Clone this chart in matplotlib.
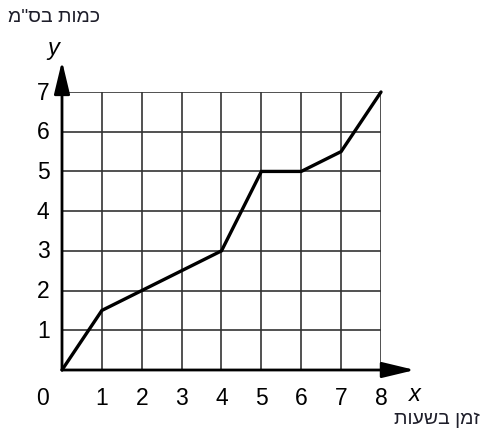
import matplotlib
matplotlib.use('Agg')
import matplotlib.pyplot as plt

# data
hours = [0, 1, 2, 3, 4, 5, 6, 7, 8]
amount_cm = [0, 1.5, 2, 2.5, 3, 5, 5, 5.5, 7]
x_ticks = [1, 2, 3, 4, 5, 6, 7, 8]
y_ticks = [1, 2, 3, 4, 5, 6, 7]
y_caption = 'כמות בס"מ'
x_caption = 'זמן בשעות'

plt.rcParams['font.family'] = ['Liberation Sans', 'DejaVu Sans']

W, H = 483, 435
fig = plt.figure(figsize=(W / 100, H / 100), dpi=100)
# axes box in pixels: x 62..381, y 93..371
ax = fig.add_axes([62 / W, 1 - 371 / H, (381 - 62) / W, (371 - 93) / H])
ax.set_xlim(0, 8)
ax.set_ylim(0, 7)
for s in ax.spines.values():
    s.set_visible(False)
ax.set_xticks([])
ax.set_yticks([])

# grid
for gx in x_ticks:
    ax.plot([gx, gx], [0, 7], color='#333333', lw=1.2, zorder=1)
for gy in y_ticks:
    ax.plot([0, 8], [gy, gy], color='#333333', lw=1.2, zorder=1)

# axes with arrows
arrow = dict(arrowstyle='-|>,head_length=1.0,head_width=0.24', color='black',
             lw=2.0, mutation_scale=20, shrinkA=0, shrinkB=0)
ax.annotate('', xy=(8.85, 0), xytext=(0, 0), arrowprops=arrow, annotation_clip=False)
ax.annotate('', xy=(0, 7.78), xytext=(0, 0), arrowprops=arrow, annotation_clip=False)

# the line
ax.plot(hours, amount_cm, color='black', lw=2.4, zorder=3, clip_on=False,
        solid_capstyle='round', solid_joinstyle='miter')

# tick labels
for gx in x_ticks:
    ax.text(gx, -0.68, str(gx), ha='center', va='center', fontsize=16.5, clip_on=False)
ax.text(-0.5, -0.68, '0', ha='center', va='center', fontsize=16.5, clip_on=False)
for gy in y_ticks:
    ax.text(-0.47, gy, str(gy), ha='center', va='center', fontsize=16.5, clip_on=False)

ax.text(8.85, -0.6, 'x', ha='center', va='center', fontsize=17, style='italic')
ax.text(-0.23, 8.12, 'y', ha='center', va='center', fontsize=17, style='italic')

# Hebrew captions (glyph order reversed so they read as in the reference)
fig.text(8 / W, 1 - 18 / H, y_caption[::-1], ha='left', va='center',
         fontsize=14, color='#1e1e2a')
fig.text(480 / W, 1 - 420 / H, x_caption[::-1], ha='right', va='center',
         fontsize=14, color='#1e1e2a')

fig.savefig('out.png', dpi=100)
